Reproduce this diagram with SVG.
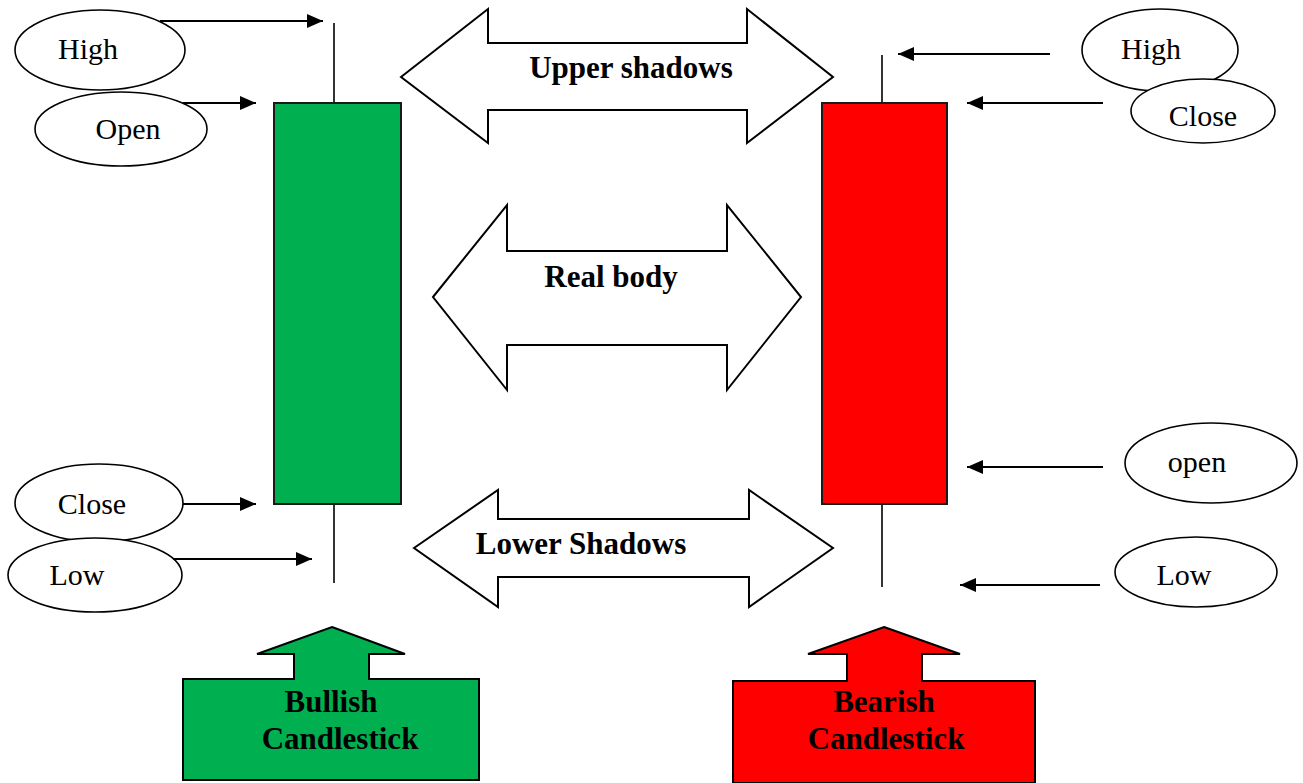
<svg xmlns="http://www.w3.org/2000/svg" width="1303" height="783" viewBox="0 0 1303 783">
<style>
.lbl{font-family:"Liberation Serif","Times New Roman",serif;font-size:30px;fill:#000;text-anchor:middle}
.bold{font-family:"Liberation Serif","Times New Roman",serif;font-size:31px;font-weight:bold;fill:#000;text-anchor:middle}
.ell{fill:#fff;stroke:#000;stroke-width:1.6}
.big{fill:#fff;stroke:#000;stroke-width:2;stroke-linejoin:miter}
.wick{stroke:#000;stroke-width:1.6}
.conn{stroke:#000;stroke-width:2.2;fill:none}
</style>
<defs>
<marker id="ah" markerUnits="userSpaceOnUse" markerWidth="17" markerHeight="15" refX="16" refY="7" orient="auto">
<path d="M0,0 L16,7 L0,14 z" fill="#000"/>
</marker>
</defs>
<rect width="1303" height="783" fill="#fff"/>

<g id="bull-candle">
<line class="wick" x1="334" y1="23" x2="334" y2="103"/>
<line class="wick" x1="334" y1="504" x2="334" y2="583"/>
<rect x="274" y="103" width="127" height="401" fill="#00B050" stroke="#1a1a1a" stroke-width="2"/>
</g>
<g id="bear-candle">
<line class="wick" x1="882" y1="55" x2="882" y2="103"/>
<line class="wick" x1="882" y1="504" x2="882" y2="587"/>
<rect x="822" y="103" width="125" height="401" fill="#FF0000" stroke="#1a1a1a" stroke-width="2"/>
</g>

<g id="upper-shadows">
<polygon class="big" points="401,77 488,9 488,43 747,43 747,9 833,77 747,143 747,110 488,110 488,143"/>
<text class="bold" x="631" y="78">Upper shadows</text>
</g>
<g id="real-body">
<polygon class="big" points="433,297 507,205 507,251 727,251 727,205 801,297 727,390 727,345 507,345 507,390"/>
<text class="bold" x="611" y="287">Real body</text>
</g>
<g id="lower-shadows">
<polygon class="big" points="414,548 498,490 498,519 749,519 749,490 833,548 749,607 749,577 498,577 498,607"/>
<text class="bold" x="581" y="554">Lower Shadows</text>
</g>

<g id="high-left"><ellipse class="ell" cx="100" cy="50" rx="85" ry="40"/><text class="lbl" x="88" y="59">High</text></g>
<g id="open-left"><ellipse class="ell" cx="121" cy="129" rx="86" ry="37"/><text class="lbl" x="128" y="139">Open</text></g>
<g id="close-left"><ellipse class="ell" cx="99" cy="503" rx="84" ry="39"/><text class="lbl" x="92" y="514">Close</text></g>
<g id="low-left"><ellipse class="ell" cx="95" cy="575" rx="87" ry="37"/><text class="lbl" x="77" y="585">Low</text></g>

<g id="high-right"><ellipse class="ell" cx="1160" cy="50" rx="78" ry="41"/><text class="lbl" x="1151" y="59">High</text></g>
<g id="close-right"><ellipse class="ell" cx="1203" cy="111" rx="72" ry="32"/><text class="lbl" x="1203" y="126">Close</text></g>
<g id="open-right"><ellipse class="ell" cx="1211" cy="463" rx="86" ry="40"/><text class="lbl" x="1197" y="472">open</text></g>
<g id="low-right"><ellipse class="ell" cx="1196" cy="572" rx="81" ry="35"/><text class="lbl" x="1184" y="585">Low</text></g>

<g id="bullish">
<polygon points="332,627 405,654 369,654 369,679 479,679 479,780 183,780 183,679 294,679 294,654 257,654" fill="#00B050" stroke="#000" stroke-width="2"/>
<text class="bold" x="331" y="712">Bullish</text>
<text class="bold" x="340" y="749">Candlestick</text>
</g>
<g id="bearish">
<polygon points="884,627 960,654 922,654 922,681 1035,681 1035,783 733,783 733,681 847,681 847,654 808,654" fill="#FF0000" stroke="#000" stroke-width="2"/>
<text class="bold" x="884" y="712">Bearish</text>
<text class="bold" x="886" y="749">Candlestick</text>
</g>

<g id="connectors">
<line class="conn" x1="160" y1="21" x2="323" y2="21" marker-end="url(#ah)"/>
<line class="conn" x1="183" y1="103" x2="256" y2="103" marker-end="url(#ah)"/>
<line class="conn" x1="183" y1="504" x2="256" y2="504" marker-end="url(#ah)"/>
<line class="conn" x1="173" y1="559" x2="312" y2="559" marker-end="url(#ah)"/>
<line class="conn" x1="1050" y1="54" x2="898" y2="54" marker-end="url(#ah)"/>
<line class="conn" x1="1103" y1="103" x2="967" y2="103" marker-end="url(#ah)"/>
<line class="conn" x1="1103" y1="467" x2="967" y2="467" marker-end="url(#ah)"/>
<line class="conn" x1="1100" y1="585" x2="960" y2="585" marker-end="url(#ah)"/>
</g>
</svg>
